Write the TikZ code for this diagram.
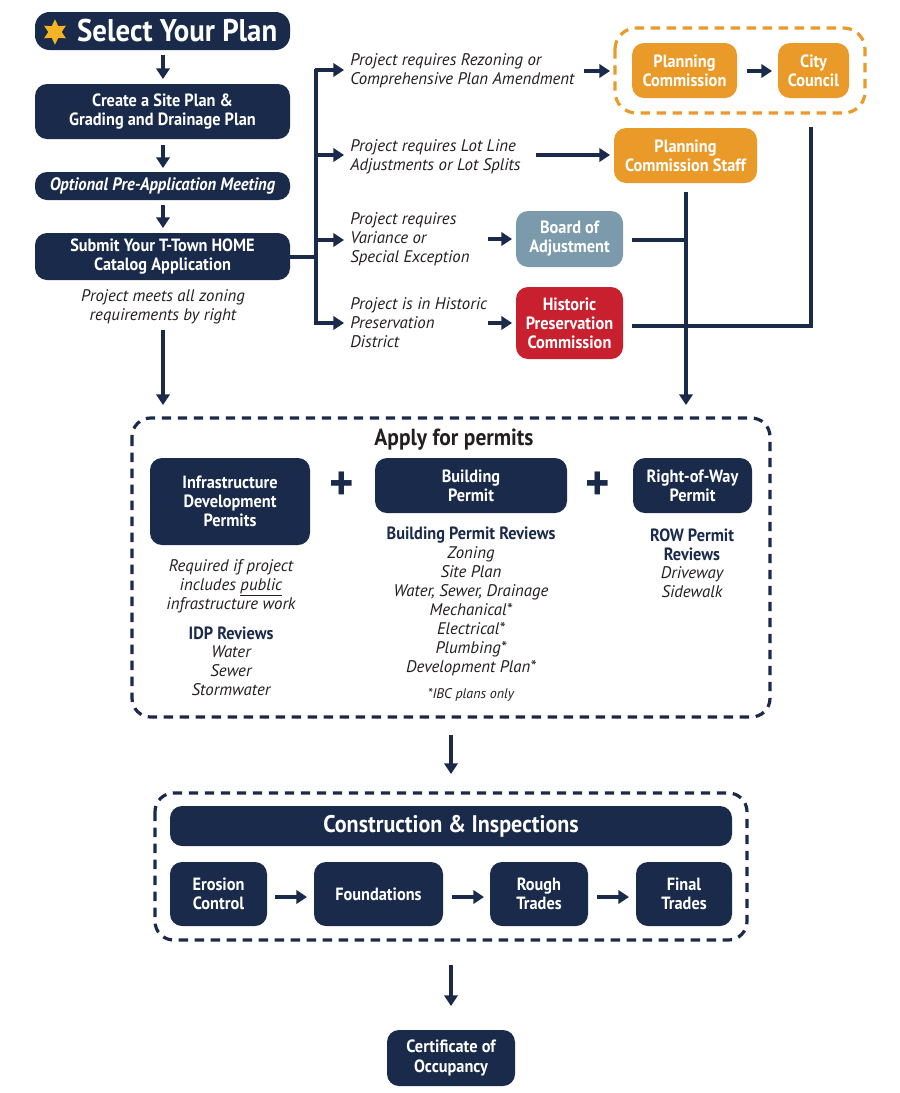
\documentclass[tikz,border=0pt]{standalone}
\usepackage{fontspec}
\setmainfont{PT Sans}[BoldFeatures={FakeStretch=0.92},BoldItalicFeatures={FakeStretch=0.92}]
\usetikzlibrary{arrows.meta,shapes.geometric}
\definecolor{navy}{HTML}{1A2A4B}
\definecolor{orng}{HTML}{E99A29}
\definecolor{slate}{HTML}{7B9BAD}
\definecolor{hred}{HTML}{C8202F}
\definecolor{gold}{HTML}{F2B324}
\definecolor{txt}{HTML}{231F20}
\tikzset{
  box/.style={draw=none, rounded corners=9pt, text=white, font=\bfseries\fontsize{13.3}{14.3}\selectfont, align=center, inner sep=0pt},
  nbox/.style={box, fill=navy},
  obox/.style={box, fill=orng},
  conn/.style={draw=navy, line width=3pt},
  arr/.style={conn, -{Triangle[length=8pt,width=10pt]}},
  note/.style={text=txt, font=\itshape\fontsize{12.6}{14.3}\selectfont, inner sep=0pt},
  head/.style={text=navy, font=\bfseries\fontsize{13.3}{14.3}\selectfont, inner sep=0pt},
  dbox/.style={draw=navy, line width=2.4pt, dash pattern=on 7pt off 5pt, rounded corners=14pt},
  plus/.style={text=navy, font=\bfseries\fontsize{38}{38}\selectfont, inner sep=0pt}
}
\begin{document}
\begin{tikzpicture}[x=0.75pt,y=-0.75pt]
\useasboundingbox (0,0) rectangle (900,1093);
% left column
\node[nbox, minimum width=255*0.75pt, minimum height=38*0.75pt, font=\bfseries\fontsize{23.5}{26}\selectfont, rounded corners=11pt] (sel) at (162.5,31) {\hspace*{22pt}Select Your Plan};
\node[star, star points=6, star point ratio=1.9, fill=gold, minimum size=19pt, inner sep=0pt] (star) at (55,32) {};
\node[nbox, minimum width=255*0.75pt, minimum height=55*0.75pt] (site) at (162.5,111.5) {Create a Site Plan \&\\Grading and Drainage Plan};
\node[nbox, minimum width=255*0.75pt, minimum height=28*0.75pt, font=\bfseries\itshape\fontsize{13.5}{14.3}\selectfont] (opt) at (162.5,186) {Optional Pre-Application Meeting};
\node[nbox, minimum width=255*0.75pt, minimum height=47*0.75pt] (sub) at (162.5,256.5) {Submit Your T-Town HOME\\Catalog Application};
\node[note, align=center] (meets) at (163,306.5) {Project meets all zoning\\requirements by right};
\draw[arr] (163,55) -- (163,79);
\draw[arr] (163,145) -- (163,168);
\draw[arr] (163,205) -- (163,228);
\draw[arr] (163,330) -- (163,405);

% branch
\draw[conn] (sub.east) -- (316,256.5);
\draw[conn] (316,68.5) -- (316,324.5);
\draw[arr] (314.5,70) -- (344,70);
\draw[arr] (314.5,155) -- (344,155);
\draw[arr] (314.5,240) -- (344,240);
\draw[arr] (314.5,323) -- (344,323);

\node[note, anchor=west, align=left] (t1) at (350,71) {Project requires Rezoning or\\Comprehensive Plan Amendment};
\node[note, anchor=west, align=left] (t2) at (350,156.5) {Project requires Lot Line\\Adjustments or Lot Splits};
\node[note, anchor=west, align=left] (t3) at (350,239) {Project requires\\Variance or\\Special Exception};
\node[note, anchor=west, align=left] (t4) at (350,323) {Project is in Historic\\Preservation\\District};

% right side boxes
\draw[draw=orng, line width=2.4pt, dash pattern=on 7pt off 5pt, rounded corners=16pt] (615,28) rectangle (865,113);
\node[obox, minimum width=105*0.75pt, minimum height=55*0.75pt] (pc) at (684.5,70.5) {Planning\\Commission};
\node[obox, minimum width=71*0.75pt, minimum height=55*0.75pt] (cc) at (813.5,70.5) {City\\Council};
\node[obox, minimum width=143*0.75pt, minimum height=55*0.75pt] (pcs) at (685.5,155.5) {Planning\\Commission Staff};
\node[box, fill=slate, minimum width=107*0.75pt, minimum height=56*0.75pt] (boa) at (569.5,239) {Board of\\Adjustment};
\node[box, fill=hred, minimum width=107*0.75pt, minimum height=72*0.75pt] (hpc) at (569.5,323) {Historic\\Preservation\\Commission};

\draw[arr] (584,71) -- (610,71);
\draw[arr] (747,71) -- (772,71);
\draw[arr] (536,155) -- (610,155);
\draw[arr] (488,239) -- (512,239);
\draw[arr] (488,323) -- (512,323);

\draw[conn] (632,240) -- (686,240);
\draw[conn] (632,326) -- (811,326) -- (811,127);
\draw[arr] (686,192) -- (686,405);

% permits
\draw[dbox] (132,418) rectangle (770,717);
\node[text=txt, font=\bfseries\fontsize{17.5}{19}\selectfont, inner sep=0pt] (apply) at (454,440) {Apply for permits};
\node[nbox, minimum width=160*0.75pt, minimum height=87*0.75pt] (idp) at (230,501.5) {Infrastructure\\Development\\Permits};
\node[plus] (p1) at (342,486) {+};
\node[nbox, minimum width=192*0.75pt, minimum height=55*0.75pt] (bp) at (471,485.5) {Building\\Permit};
\node[plus] (p2) at (598,486) {+};
\node[nbox, minimum width=119*0.75pt, minimum height=55*0.75pt] (row) at (692.5,485.5) {Right-of-Way\\Permit};

\node[note, align=center] (req) at (231,586) {Required if project\\includes \underline{public}\\infrastructure work};
\node[head] (idpr) at (231,633) {IDP Reviews};
\node[note, align=center] (idpl) at (231,671) {Water\\Sewer\\Stormwater};

\node[head] (bpr) at (471,535) {Building Permit Reviews};
\node[note, align=center] (bpl) at (471,611.5) {Zoning\\Site Plan\\Water, Sewer, Drainage\\Mechanical*\\Electrical*\\Plumbing*\\Development Plan*};
\node[note, font=\itshape\fontsize{10.5}{12}\selectfont] (ibc) at (471,695) {*IBC plans only};

\node[head, align=center] (rowr) at (692,544.5) {ROW Permit\\Reviews};
\node[note, align=center] (rowl) at (692,582.5) {Driveway\\Sidewalk};

\draw[arr] (451,735) -- (451,774);

% construction
\draw[dbox] (155,793) rectangle (747,940);
\node[nbox, minimum width=562*0.75pt, minimum height=40*0.75pt, font=\bfseries\fontsize{18}{20}\selectfont] (ci) at (451,826) {Construction \& Inspections};
\node[nbox, minimum width=97*0.75pt, minimum height=64*0.75pt] (ero) at (218.5,894) {Erosion\\Control};
\node[nbox, minimum width=129*0.75pt, minimum height=64*0.75pt] (fnd) at (378.5,894) {Foundations};
\node[nbox, minimum width=98*0.75pt, minimum height=64*0.75pt] (rgh) at (539,894) {Rough\\Trades};
\node[nbox, minimum width=96*0.75pt, minimum height=64*0.75pt] (fin) at (684,894) {Final\\Trades};
\draw[arr] (275,897) -- (307,897);
\draw[arr] (452,897) -- (484,897);
\draw[arr] (597,897) -- (629,897);

\draw[arr] (451,965) -- (451,1006);
\node[nbox, minimum width=128*0.75pt, minimum height=56*0.75pt] (cert) at (451,1058) {Certificate of\\Occupancy};
\end{tikzpicture}
\end{document}
